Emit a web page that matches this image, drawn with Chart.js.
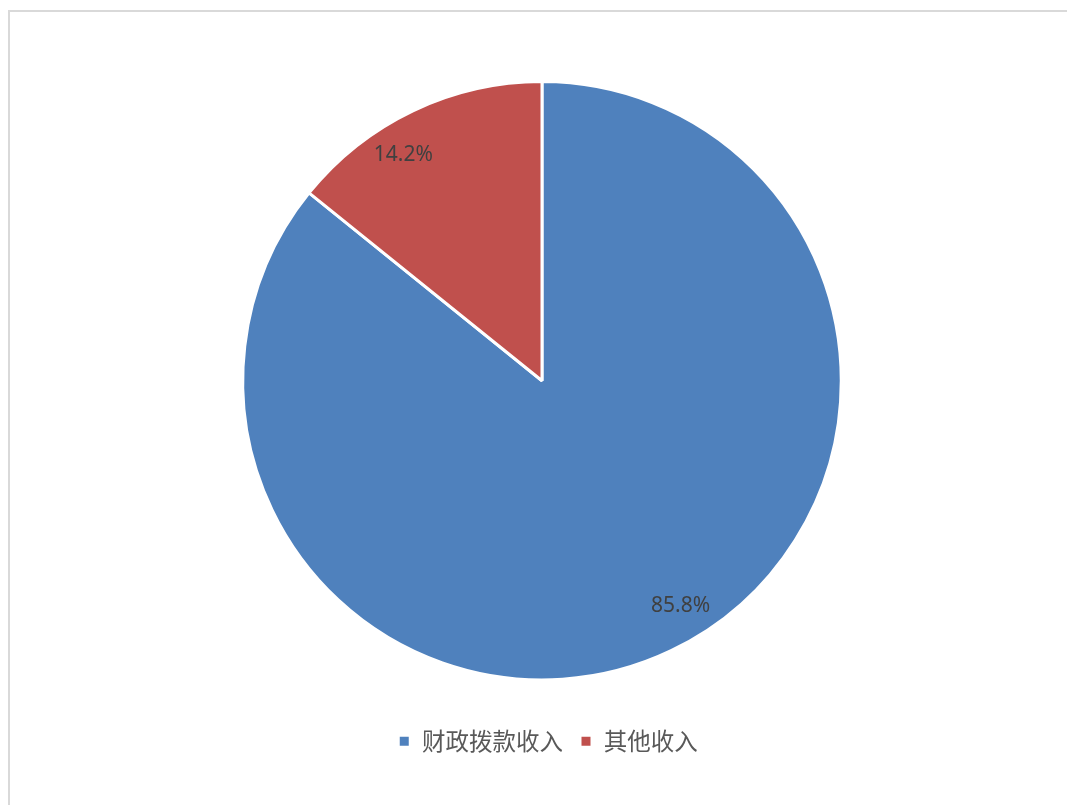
<!DOCTYPE html>
<html>
<head>
<meta charset="utf-8">
<script src="https://cdn.jsdelivr.net/npm/chart.js@4"></script>
<style>
  html, body { margin: 0; padding: 0; background: #fff; }
  body { width: 1067px; height: 805px; position: relative; overflow: hidden; }
  /* rahmen nur oben und links sichtbar */
  #frame { position: absolute; left: 8px; top: 10px; width: 1100px; height: 840px;
           border-top: 2px solid #d9d9d9; border-left: 2px solid #d9d9d9; }
  #wrap { position: absolute; left: 0; top: 0; width: 1067px; height: 805px; }
</style>
</head>
<body>
<div id="frame"></div>
<div id="wrap"><canvas id="c"></canvas></div>
<script>
// Daten
const labels = ['财政拨款收入', '其他收入'];
const values = [85.8, 14.2];
const colors = ['#4F81BD', '#C0504D'];

const $ = id => document.getElementById(id);

// Prozentwerte auf den Segmenten
const sliceLabels = {
  id: 'sliceLabels',
  afterDatasetsDraw(chart) {
    const ctx = chart.ctx;
    const meta = chart.getDatasetMeta(0);
    ctx.save();
    ctx.font = '21px "Noto Sans", "Liberation Sans", sans-serif';
    ctx.fillStyle = '#404040';
    ctx.textAlign = 'center';
    ctx.textBaseline = 'middle';
    meta.data.forEach((arc, i) => {
      const { x, y, startAngle, endAngle, outerRadius } = arc.getProps(['x', 'y', 'startAngle', 'endAngle', 'outerRadius'], true);
      const mid = (startAngle + endAngle) / 2 - 6 * Math.PI / 180;
      const r = outerRadius * 0.885;
      ctx.fillText(values[i].toFixed(1) + '%', x + Math.cos(mid) * r, y + Math.sin(mid) * r);
    });
    ctx.restore();
  }
};

// Legende etwas nach rechts schieben (wie im Original)
const legendShift = {
  id: 'legendShift',
  afterLayout(chart) {
    chart.legend.left += 6;
    chart.legend.right += 6;
  }
};

new Chart($('c'), {
  type: 'pie',
  data: {
    labels: labels,
    datasets: [{
      data: values,
      backgroundColor: colors,
      borderColor: '#ffffff',
      borderWidth: 3
    }]
  },
  options: {
    responsive: true,
    maintainAspectRatio: false,
    animation: false,
    layout: { padding: { top: 80, left: 17, right: 0, bottom: 42 } },
    plugins: {
      legend: {
        position: 'bottom',
        // leerer Titel als Abstand zwischen Kreis und Legende
        title: { display: true, text: ' ', font: { size: 10 }, padding: { top: 19, bottom: 0 } },
        labels: {
          boxWidth: 12,
          boxHeight: 12,
          padding: 17,
          color: '#595959',
          font: { size: 23.5, family: '"Noto Sans CJK SC", sans-serif' }
        }
      },
      tooltip: { enabled: false }
    }
  },
  plugins: [sliceLabels, legendShift]
});
</script>
</body>
</html>
